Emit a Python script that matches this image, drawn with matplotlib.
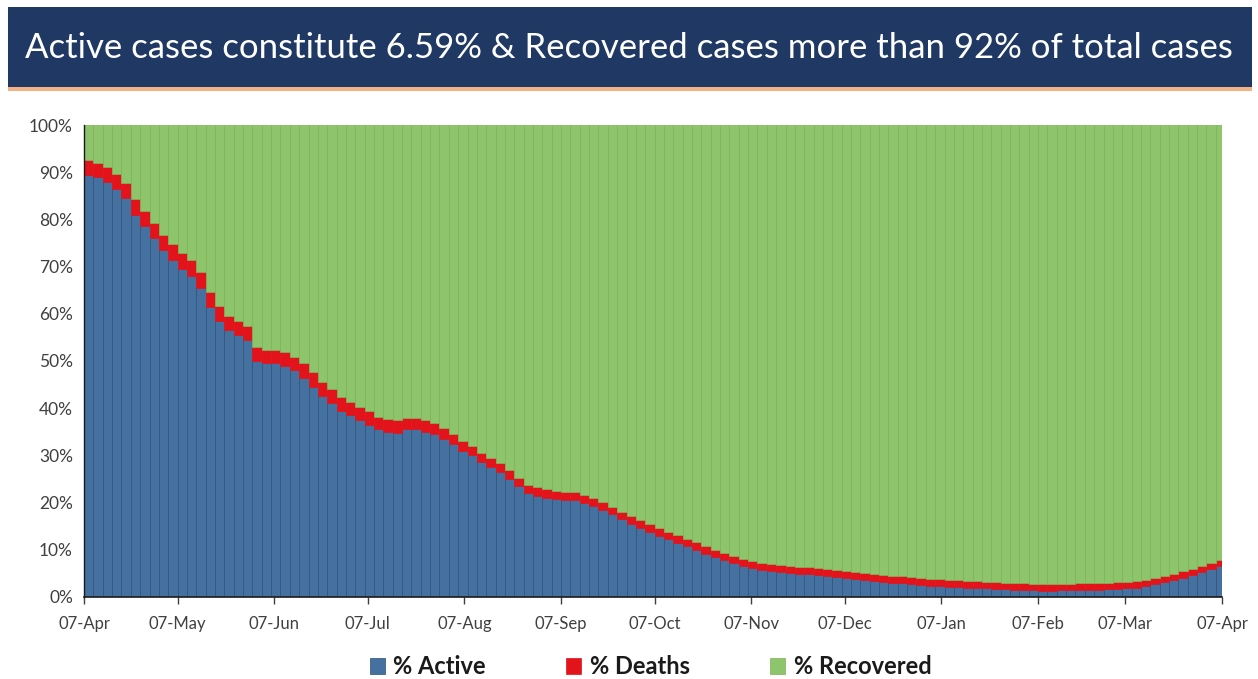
import matplotlib
matplotlib.use("Agg")
import matplotlib.pyplot as plt
import matplotlib.dates as mdates
from matplotlib.patches import Rectangle
import numpy as np
import pandas as pd

# --------------------------------------------------------------------------- #
# data: share of total cases, one bar every 3 days from 07-Apr-2020
# --------------------------------------------------------------------------- #
start = "2020-04-07"
step_days = 3

active = [
    89.5, 89.0, 88.0, 86.5, 84.5, 81.0, 78.5, 76.0, 73.5, 71.5,
    69.5, 68.0, 65.5, 61.5, 58.5, 56.5, 55.5, 54.5, 50.0, 49.5,
    49.5, 49.0, 48.0, 46.5, 44.5, 42.5, 41.0, 39.5, 38.5, 37.5,
    36.5, 35.5, 35.0, 34.8, 35.5, 35.5, 35.0, 34.5, 33.5, 32.5,
    31.0, 30.0, 28.5, 27.5, 26.5, 25.0, 23.5, 22.0, 21.5, 21.0,
    20.8, 20.6, 20.5, 20.0, 19.3, 18.5, 17.5, 16.5, 15.5, 14.7,
    13.8, 13.0, 12.2, 11.5, 10.8, 10.0, 9.2, 8.5, 7.8, 7.2,
    6.6, 6.1, 5.8, 5.5, 5.2, 5.0, 4.9, 4.8, 4.7, 4.5,
    4.3, 4.1, 3.8, 3.6, 3.4, 3.2, 3.0, 2.9, 2.7, 2.6,
    2.4, 2.3, 2.2, 2.1, 2.0, 1.9, 1.8, 1.7, 1.6, 1.5,
    1.45, 1.4, 1.35, 1.35, 1.4, 1.4, 1.45, 1.5, 1.55, 1.6,
    1.7, 1.8, 2.0, 2.3, 2.7, 3.1, 3.6, 4.1, 4.7, 5.3,
    5.9, 6.5,
]
deaths = [
    3.0, 3.0, 3.1, 3.2, 3.2, 3.3, 3.3, 3.3, 3.3, 3.3,
    3.3, 3.3, 3.3, 3.2, 3.1, 3.0, 2.9, 2.9, 2.9, 2.8,
    2.8, 2.8, 2.9, 3.0, 3.1, 3.1, 3.0, 2.9, 2.8, 2.8,
    2.8, 2.7, 2.7, 2.6, 2.5, 2.5, 2.4, 2.3, 2.2, 2.1,
    2.1, 2.0, 2.0, 1.9, 1.9, 1.9, 1.8, 1.8, 1.8, 1.8,
    1.7, 1.7, 1.7, 1.7, 1.7, 1.7, 1.6, 1.6, 1.6, 1.6,
    1.6, 1.6, 1.6, 1.6, 1.55, 1.55, 1.5, 1.5, 1.5, 1.5,
    1.5, 1.5, 1.5, 1.5, 1.5, 1.5, 1.5, 1.45, 1.45, 1.45,
    1.45, 1.45, 1.45, 1.45, 1.45, 1.45, 1.45, 1.45, 1.45, 1.45,
    1.45, 1.45, 1.45, 1.45, 1.45, 1.45, 1.45, 1.45, 1.44, 1.44,
    1.43, 1.43, 1.43, 1.43, 1.42, 1.42, 1.42, 1.41, 1.41, 1.40,
    1.40, 1.40, 1.39, 1.38, 1.37, 1.36, 1.35, 1.34, 1.33, 1.32,
    1.31, 1.30,
]

title = "Active cases constitute 6.59% & Recovered cases more than 92% of total cases"
y_ticks = [0, 10, 20, 30, 40, 50, 60, 70, 80, 90, 100]
tick_dates = pd.date_range("2020-04-01", "2021-04-01", freq="MS") + pd.Timedelta(days=6)

dates = pd.date_range(start, periods=len(active), freq=f"{step_days}D")
active = np.array(active)
deaths = np.array(deaths)
recovered = 100.0 - active - deaths

# --------------------------------------------------------------------------- #
# figure
# --------------------------------------------------------------------------- #
plt.rcParams["font.family"] = ["Lato", "DejaVu Sans"]

fig = plt.figure(figsize=(12.58, 6.79), dpi=100)

# title banner
fig.patches.append(Rectangle((0.006, 0.872), 0.989, 0.118, transform=fig.transFigure,
                             facecolor="#1f3864", edgecolor="none", zorder=0))
fig.patches.append(Rectangle((0.006, 0.866), 0.989, 0.006, transform=fig.transFigure,
                             facecolor="#f4b183", edgecolor="none", zorder=0))
fig.text(0.5, 0.930, title, color="white", fontsize=25, ha="center", va="center")

ax = fig.add_axes([0.0668, 0.1208, 0.9046, 0.6951])

w = pd.Timedelta(days=step_days)
ax.bar(dates, active, width=w, align="edge", color="#44719f",
       edgecolor="#2c5178", linewidth=0.5, label="% Active")
ax.bar(dates, deaths, width=w, align="edge", bottom=active, color="#e3131b",
       edgecolor="#e3131b", linewidth=0.5, label="% Deaths")
ax.bar(dates, recovered, width=w, align="edge", bottom=active + deaths,
       color="#8ec46b", edgecolor="#7bb257", linewidth=0.5, label="% Recovered")

ax.set_xlim(pd.Timestamp("2020-04-07"), pd.Timestamp("2021-04-07"))
ax.set_ylim(0, 100)
ax.set_yticks(y_ticks)
ax.set_yticklabels([f"{v}%" for v in y_ticks])
ax.set_xticks(tick_dates)
ax.xaxis.set_major_formatter(mdates.DateFormatter("%d-%b"))

for s in ["top", "right"]:
    ax.spines[s].set_visible(False)
ax.spines["left"].set_color("#1a1a1a")
ax.spines["bottom"].set_color("#1a1a1a")
ax.spines["left"].set_linewidth(1.0)
ax.spines["bottom"].set_linewidth(1.2)
ax.tick_params(axis="y", length=0, pad=8, labelsize=12.5, labelcolor="#404040")
ax.tick_params(axis="x", length=5, width=1, color="#404040", pad=9,
               labelsize=12, labelcolor="#404040")

handles, labels = ax.get_legend_handles_labels()
leg = fig.legend(handles, labels, loc="center", bbox_to_anchor=(0.517, 0.018), ncol=3,
                 frameon=False, fontsize=17, handlelength=0.65, handleheight=0.65,
                 handletextpad=0.35, columnspacing=3.4)
for t in leg.get_texts():
    t.set_fontweight("bold")
    t.set_color("#1a1a1a")

fig.savefig("out.png", dpi=100)
plt.close(fig)
